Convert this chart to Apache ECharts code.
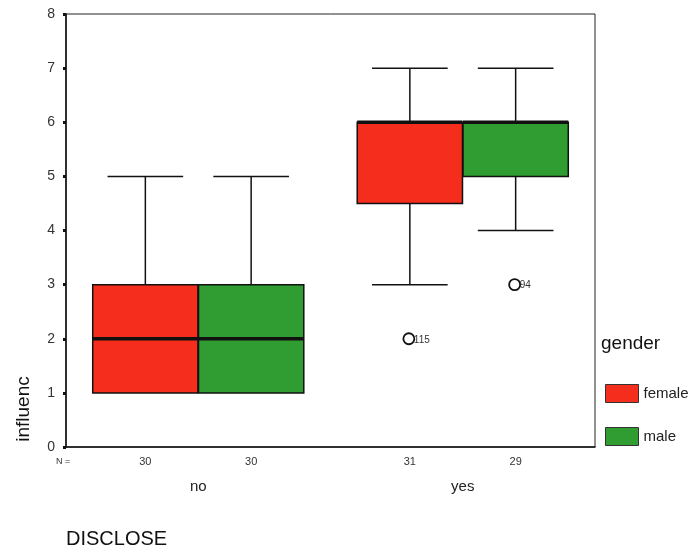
<!DOCTYPE html>
<html>
<head>
<meta charset="utf-8">
<script src="https://cdn.jsdelivr.net/npm/echarts@6/dist/echarts.min.js"></script>
<style>html,body{margin:0;padding:0;background:#fff;}#c{width:691px;height:553px;}</style>
</head>
<body>
<div id="c"></div>
<script>
// ---- data ----
const categories = ['no', 'yes'];
const groups = ['female', 'male'];
// [min, Q1, median, Q3, max]
const femaleStats = [[1, 1, 2, 3, 5], [3, 4.5, 6, 6, 7]];
const maleStats = [[1, 1, 2, 3, 5], [4, 5, 6, 6, 7]];
const femaleN = [30, 31];
const maleN = [30, 29];
// outliers: [category index, value, case label]
const femaleOutliers = [[1, 2, '115']];
const maleOutliers = [[1, 3, '94']];
const yTicks = [0, 1, 2, 3, 4, 5, 6, 7, 8];

const FONT = '"Liberation Sans", Arial, sans-serif';
const RED = '#f42d1d';
const GREEN = '#2f9d31';

function makeRender(sign, color) {
  return function (params, api) {
    const cat = api.value(0);
    const band = api.size([1, 0])[0];
    const cx = api.coord([cat, 0])[0] + sign * band * 0.2;
    const half = band * 0.199;
    const capHalf = band * 0.143;
    const y = v => api.coord([cat, v])[1];
    const mn = api.value(1), q1 = api.value(2), md = api.value(3), q3 = api.value(4), mx = api.value(5);
    const n = api.value(6);
    const ln = (x1, y1, x2, y2, w) => ({
      type: 'line', shape: { x1, y1, x2, y2 },
      style: { stroke: '#111', lineWidth: w || 1.5 }
    });
    const children = [];
    children.push(ln(cx, y(mx), cx, y(q3)));
    children.push(ln(cx - capHalf, y(mx), cx + capHalf, y(mx)));
    if (mn < q1) {
      children.push(ln(cx, y(q1), cx, y(mn)));
      children.push(ln(cx - capHalf, y(mn), cx + capHalf, y(mn)));
    }
    children.push({
      type: 'rect',
      shape: { x: cx - half, y: y(q3), width: half * 2, height: y(q1) - y(q3) },
      style: { fill: color, stroke: '#111', lineWidth: 1.5 }
    });
    children.push(ln(cx - half, y(md), cx + half, y(md), 3.5));
    children.push({
      type: 'text',
      style: {
        x: cx, y: y(0) + 15, text: String(n), align: 'center', verticalAlign: 'middle',
        font: '11px ' + FONT, fill: '#333'
      }
    });
    return { type: 'group', children };
  };
}

function makeOutlierRender(sign, list) {
  return function (params, api) {
    const cat = api.value(0);
    const band = api.size([1, 0])[0];
    const cx = api.coord([cat, 0])[0] + sign * band * 0.2 - 1;
    const cy = api.coord([cat, api.value(1)])[1];
    const lbl = list[params.dataIndex][2];
    return {
      type: 'group',
      children: [
        { type: 'circle', shape: { cx, cy, r: 5.5 }, style: { fill: '#fff', stroke: '#111', lineWidth: 1.8 } },
        { type: 'text', style: { x: cx + 5, y: cy + 1, text: lbl, align: 'left', verticalAlign: 'middle', font: '10px ' + FONT, fill: '#333' } }
      ]
    };
  };
}

const chart = echarts.init(document.getElementById('c'), null, { renderer: 'canvas' });
chart.setOption({
  animation: false,
  backgroundColor: '#fff',
  grid: { left: 66, right: 96, top: 14, bottom: 106, show: true, borderColor: '#222', borderWidth: 1, backgroundColor: 'transparent' },
  xAxis: {
    type: 'category',
    data: categories,
    boundaryGap: true,
    axisLine: { lineStyle: { color: '#111', width: 1.5 } },
    axisTick: { alignWithLabel: true, length: 3, lineStyle: { color: '#111', width: 3 } },
    axisLabel: { margin: 32, fontSize: 15, color: '#222', fontFamily: FONT },
    splitLine: { show: false }
  },
  yAxis: {
    type: 'value',
    min: yTicks[0], max: yTicks[yTicks.length - 1], interval: 1,
    axisLine: { show: true, lineStyle: { color: '#111', width: 1.5 } },
    axisTick: { show: true, length: 3, lineStyle: { color: '#111', width: 3 } },
    axisLabel: { margin: 11, fontSize: 14, color: '#333', fontFamily: FONT },
    splitLine: { show: false }
  },
  legend: {
    orient: 'vertical', left: 605, top: 384, padding: 0,
    itemWidth: 33, itemHeight: 18, itemGap: 24, icon: 'rect',
    itemStyle: { borderColor: '#333', borderWidth: 1 },
    textStyle: { fontSize: 15, color: '#222', fontFamily: FONT },
    data: groups
  },
  series: [
    {
      name: groups[0], type: 'custom', clip: false,
      itemStyle: { color: RED },
      renderItem: makeRender(-1, RED),
      encode: { x: 0, y: [1, 2, 3, 4, 5] },
      data: femaleStats.map((s, i) => [i, ...s, femaleN[i]])
    },
    {
      name: groups[1], type: 'custom', clip: false,
      itemStyle: { color: GREEN },
      renderItem: makeRender(1, GREEN),
      encode: { x: 0, y: [1, 2, 3, 4, 5] },
      data: maleStats.map((s, i) => [i, ...s, maleN[i]])
    },
    {
      name: 'femaleOut', type: 'custom', clip: false,
      renderItem: makeOutlierRender(-1, femaleOutliers),
      encode: { x: 0, y: 1 },
      data: femaleOutliers.map(o => [o[0], o[1]])
    },
    {
      name: 'maleOut', type: 'custom', clip: false,
      renderItem: makeOutlierRender(1, maleOutliers),
      encode: { x: 0, y: 1 },
      data: maleOutliers.map(o => [o[0], o[1]])
    }
  ],
  graphic: [
    { type: 'text', left: 56, top: 457, style: { text: 'N =', font: '9px ' + FONT, fill: '#333' } },
    { type: 'text', x: 24, y: 409, rotation: Math.PI / 2, style: { text: 'influenc', font: '19px ' + FONT, fill: '#111', align: 'center', verticalAlign: 'middle' } },
    { type: 'text', left: 66, top: 529, style: { text: 'DISCLOSE', font: '20px ' + FONT, fill: '#111' } },
    { type: 'text', left: 601, top: 334, style: { text: 'gender', font: '19px ' + FONT, fill: '#111' } }
  ]
});
</script>
</body>
</html>
